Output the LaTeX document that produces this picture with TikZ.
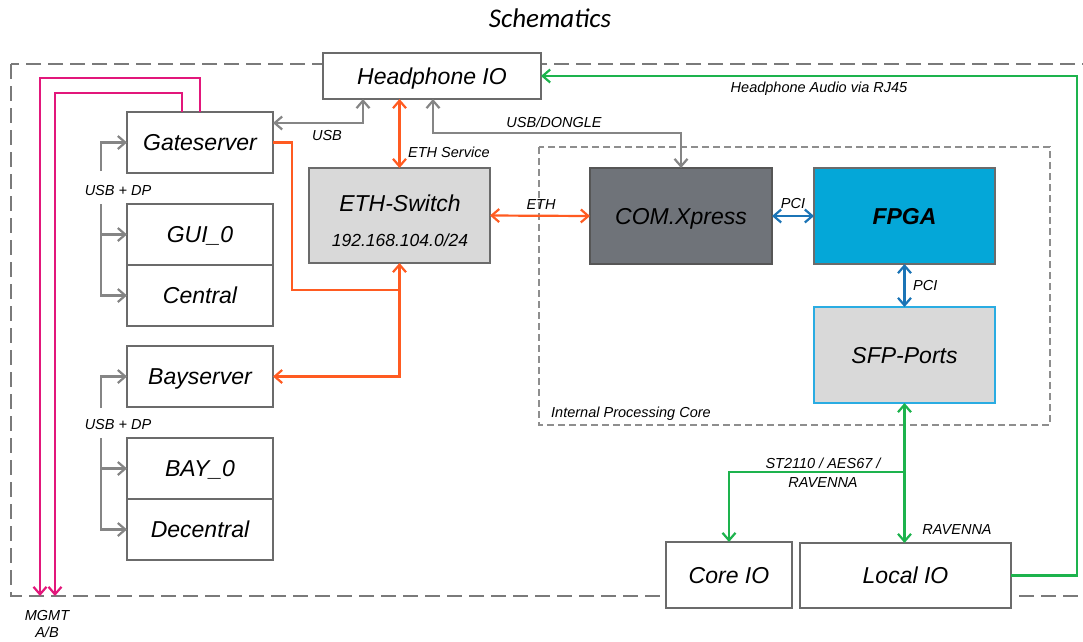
\documentclass[tikz,border=0pt]{standalone}
\usepackage{fontspec}
\setmainfont{Liberation Sans}
\newfontfamily\titlefont{Carlito}
\usetikzlibrary{arrows.meta,calc}

\definecolor{framegray}{HTML}{7A7A7A}
\definecolor{boxgray}{HTML}{6B6B6B}
\definecolor{linkgray}{HTML}{858585}
\definecolor{ethorange}{HTML}{FF5B21}
\definecolor{avgreen}{HTML}{1DB34D}
\definecolor{mgmtpink}{HTML}{E2177B}
\definecolor{pciblue}{HTML}{1B74B6}
\definecolor{fpgablue}{HTML}{04A7D8}
\definecolor{comgray}{HTML}{6F7379}
\definecolor{comedge}{HTML}{565656}
\definecolor{panel}{HTML}{D9D9D9}
\definecolor{sfpedge}{HTML}{2AACE2}

\newcommand\bxfont{\fontsize{23}{27}\selectfont\itshape}
\newcommand\ipfont{\fontsize{17.5}{20}\selectfont\itshape}
\newcommand\lblfont{\fontsize{14.5}{17}\selectfont\itshape}

\begin{document}
\begin{tikzpicture}[x=1pt,y=-1pt,
  >={Straight Barb[length=7.5pt,width=13pt]},
  box/.style={draw=boxgray,line width=1.8pt,fill=white,inner sep=0pt,outer sep=0pt,
              font=\bxfont,text height=16.5pt,text depth=0pt},
  dim/.style 2 args={minimum width=#1,minimum height=#2},
  lbl/.style={font=\lblfont,inner sep=0pt,text height=10.4pt,text depth=0pt},
  graylink/.style={draw=linkgray,line width=2.2pt},
  ethlink/.style={draw=ethorange,line width=2.2pt},
  avlink/.style={draw=avgreen,line width=2.2pt},
  mgmt/.style={draw=mgmtpink,line width=2.2pt},
  pcilink/.style={draw=pciblue,line width=2.2pt}]

\useasboundingbox (0,0) rectangle (1083,641);

% title
\node[font=\titlefont\itshape\fontsize{27}{30}\selectfont,inner sep=0pt] (title) at (550,18) {Schematics};

% system frame and processing core frame
\draw[framegray,line width=2pt,dash pattern=on 15pt off 7pt] (11,64) rectangle (1100,596);
\draw[framegray!85,line width=1.2pt,dash pattern=on 7pt off 4pt] (539,147) rectangle (1050,425);

% boxes
\node[box,dim={218}{46}] (hp) at (432,76) {Headphone IO};
\node[box,dim={146}{61}] (gate) at (200,142.5) {Gateserver};
\node[box,dim={146}{61}] (gui) at (200,234.5) {GUI\_0};
\node[box,dim={146}{61}] (central) at (200,295.5) {Central};
\node[box,dim={146}{61}] (bay) at (200,376.5) {Bayserver};
\node[box,dim={146}{61}] (bay0) at (200,468.5) {BAY\_0};
\node[box,dim={146}{61}] (decentral) at (200,529.5) {Decentral};
\node[box,fill=panel,dim={181}{95}] (eth) at (399.5,215.5) {};
\node[font=\bxfont,inner sep=0pt,text height=16.5pt,text depth=0pt] (ethname) at (400,203) {ETH-Switch};
\node[font=\ipfont,inner sep=0pt,text height=12.6pt,text depth=0pt] (ethnet) at (400,240) {192.168.104.0/24};
\node[box,fill=comgray,draw=comedge,dim={182}{96}] (com) at (681,216) {COM.Xpress};
\node[box,fill=fpgablue,dim={181}{96},font=\bxfont\bfseries] (fpga) at (904.5,216) {FPGA};
\node[box,fill=panel,draw=sfpedge,dim={181}{96}] (sfp) at (904.5,355) {SFP-Ports};
\node[box,dim={126}{66}] (core) at (729,575) {Core IO};
\node[box,dim={211}{65}] (local) at (905.5,575.5) {Local IO};

% USB links around the headphone IO
\coordinate (usbj) at (363,123);
\draw[graylink,<->] (hp.south -| usbj) -- (usbj) -- (gate.east |- usbj);
\coordinate (dng) at (433,133);
\draw[graylink,<->] (hp.south -| dng) -- (dng) -| (com.north);

% Ethernet
\draw[ethlink,<->] (hp.south -| eth.north) -- (eth.north);
\draw[ethlink,<->] (eth.east) -- (com.west);
\coordinate (gbend) at (292,143);
\coordinate (ethj) at ($(eth.south)+(0,27)$);
\draw[ethlink] (gate.east) -- (gate.east -| gbend) |- (ethj);
\coordinate (bayj) at (eth.south |- bay.east);
\draw[ethlink,<->] (eth.south) -- (bayj) -- (bay.east);

% PCI
\draw[pcilink,<->] (com.east) -- (fpga.west);
\draw[pcilink,<->] (fpga.south) -- (sfp.north);

% management lines
\coordinate (pkA) at (200,78);
\coordinate (pkB) at (182,93);
\coordinate (mgA) at (40,596);
\coordinate (mgB) at (55,596);
\draw[mgmt,->] (gate.north -| pkA) -- (pkA) -| (mgA);
\draw[mgmt,->] (gate.north -| pkB) -- (pkB) -| (mgB);

% USB + DP to the workstations
\coordinate (gsA) at (101,171);
\coordinate (gsB) at (101,204);
\draw[graylink,->] (gsA) |- (gate.west);
\draw[graylink,->] (gsB) |- (central.west);
\draw[graylink,->] (gui.west -| gsB) -- (gui.west);
\coordinate (bsA) at (101,408);
\coordinate (bsB) at (101,438);
\draw[graylink,->] (bsA) |- (bay.west);
\draw[graylink,->] (bsB) |- (decentral.west);
\draw[graylink,->] (bay0.west -| bsB) -- (bay0.west);

% media network
\coordinate (avj) at (904.5,472);
\draw[avlink,<->] (sfp.south) -- (sfp.south |- local.north);
\draw[avlink,->] (avj) -| (core.north);
\coordinate (rjtop) at (1077,76);
\draw[avlink,->] (local.east) -| (rjtop) -- (hp.east);

% labels
\node[lbl] (usblbl) at (327,135) {USB};
\node[lbl,anchor=west] (svclbl) at (408,152) {ETH Service};
\node[lbl] (dnglbl) at (554,122) {USB/DONGLE};
\node[lbl] (ethlbl) at (541,204) {ETH};
\node[lbl] (pcih) at (793,203) {PCI};
\node[lbl,anchor=west] (pciv) at (913,285) {PCI};
\node[lbl] (rjlbl) at (819,87) {Headphone Audio via RJ45};
\node[lbl,anchor=west] (corelbl) at (551,412) {Internal Processing Core};
\node[lbl] (st1) at (823,463) {ST2110 / AES67 /};
\node[lbl] (st2) at (823,482) {RAVENNA};
\node[lbl] (rav) at (957,529) {RAVENNA};
\node[lbl] (mg1) at (47,615) {MGMT};
\node[lbl] (mg2) at (47,632) {A/B};
\node[lbl] (dp1) at (118,190) {USB + DP};
\node[lbl] (dp2) at (118,424) {USB + DP};

\end{tikzpicture}
\end{document}
